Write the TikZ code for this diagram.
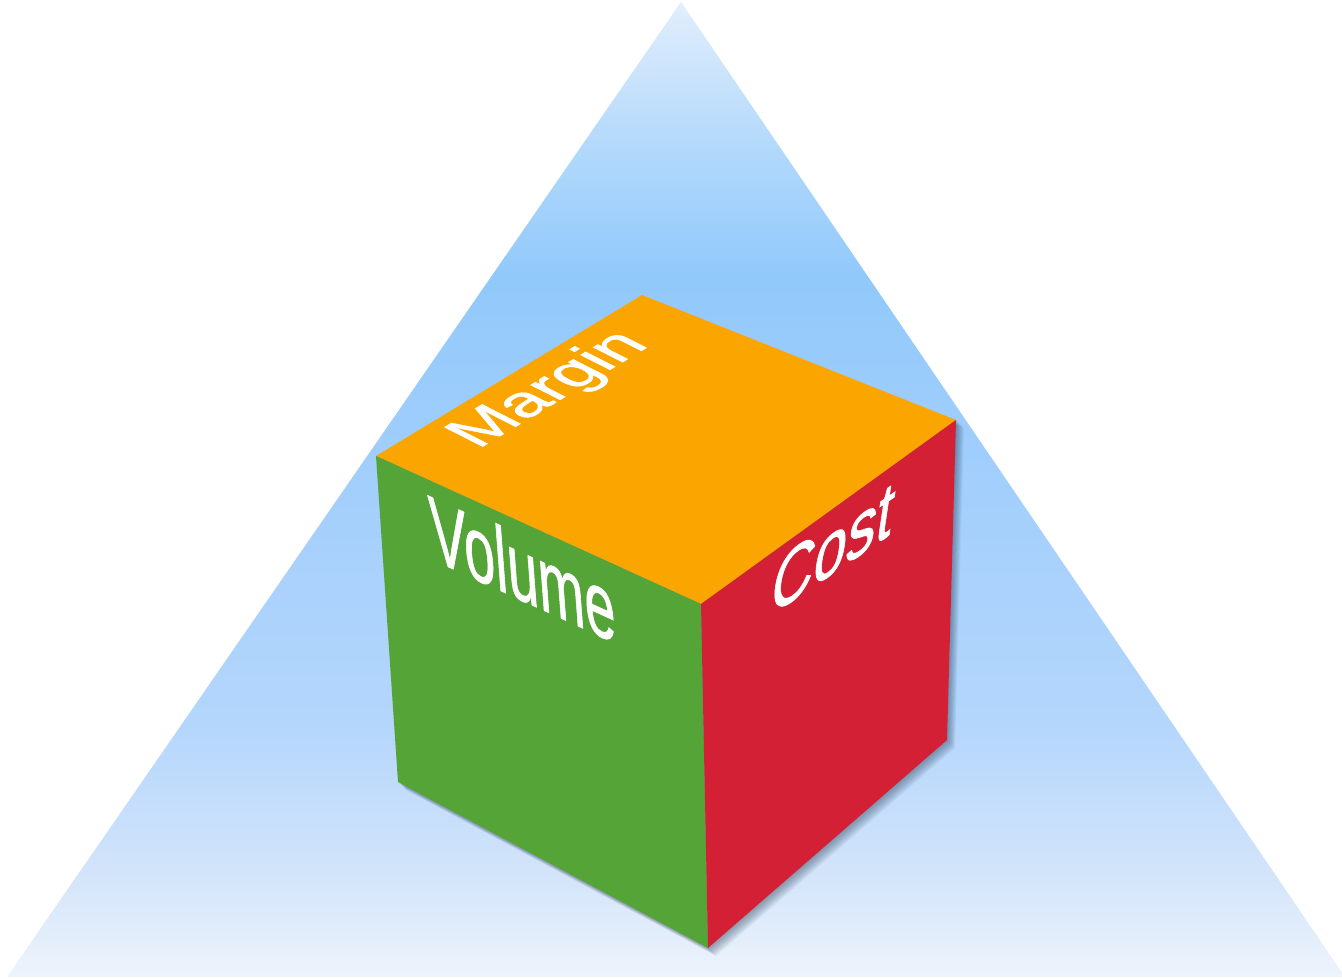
\documentclass[tikz,border=0pt]{standalone}
\usepackage{fontspec}
\setmainfont{Liberation Sans}
\newfontfamily\facefont[FakeBold=1.0]{Liberation Sans}
\usetikzlibrary{calc}
\definecolor{orangeF}{HTML}{FBA600}
\definecolor{greenF}{HTML}{55A437}
\definecolor{redF}{HTML}{D42034}
\definecolor{bz}{HTML}{EEF4FC}
\definecolor{ba}{HTML}{D4E5FA}
\definecolor{bb}{HTML}{B4D6FC}
\definecolor{bc}{HTML}{A3CFFC}
\definecolor{bd}{HTML}{91C9FB}
\definecolor{be}{HTML}{B5DAFB}
\definecolor{bf}{HTML}{E2EEFC}
\definecolor{shadowC}{HTML}{2A4058}
\pgfdeclareverticalshading{trishade}{100bp}{color(0bp)=(bz); color(25bp)=(bz); color(30bp)=(ba); color(38bp)=(bb); color(50bp)=(bc); color(61bp)=(bd); color(68bp)=(be); color(75bp)=(bf); color(100bp)=(bf)}
\tikzset{
  facetext/.style={anchor=base west, inner sep=0pt, transform shape, text=white, font=\facefont\fontsize{10}{12}\selectfont},
  shadowlayer/.style={fill=shadowC, fill opacity=0.055}
}
\begin{document}
\begin{tikzpicture}[x=0.01cm, y=-0.01cm]
\useasboundingbox (0,0) rectangle (1342,979);
% triangle
\coordinate (apex) at (681,2);
\coordinate (tl) at (7,977);
\coordinate (tr) at (1345,977);
\shade[shading=trishade] (apex) -- (tl) -- (tr) -- cycle;
% cube vertices
\coordinate (A) at (376,456);
\coordinate (T) at (642,295);
\coordinate (R) at (956,420);
\coordinate (F) at (701,604);
\coordinate (BL) at (398,782);
\coordinate (B) at (708,948);
\coordinate (BR) at (947,740);
% soft drop shadow
\foreach \s in {1,2,...,10}{
  \fill[shadowlayer] ($(A)+(\s*0.8,\s*0.8)$) -- ($(T)+(\s*0.8,\s*0.8)$) -- ($(R)+(\s*0.8,\s*0.8)$) -- ($(BR)+(\s*0.8,\s*0.8)$) -- ($(B)+(\s*0.8,\s*0.8)$) -- ($(BL)+(\s*0.8,\s*0.8)$) -- cycle;
}
% faces
\fill[orangeF] (A) -- (T) -- (R) -- (F) -- cycle;
\fill[greenF] (A) -- (F) -- (B) -- (BL) -- cycle;
\fill[redF] (F) -- (R) -- (BR) -- (B) -- cycle;
% texts mapped onto the faces
\begin{scope}[cm={1.60,0.965,-1.58,0.80,(477,450)}]
  \node[facetext] (margin) at (0,0) {Margin};
\end{scope}
\begin{scope}[cm={1.58,-0.72,-0.20,2.65,(431,559)}]
  \node[facetext] (volume) at (0,0) {Volume};
\end{scope}
\begin{scope}[cm={1.68,1.14,0.35,2.35,(767,618)}]
  \node[facetext] (cost) at (0,0) {Cost};
\end{scope}
\end{tikzpicture}
\end{document}
